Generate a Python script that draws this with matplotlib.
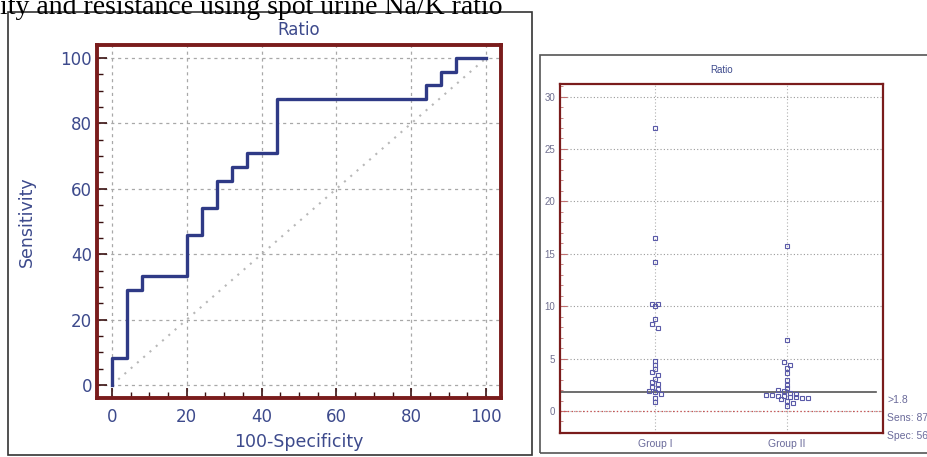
import matplotlib
matplotlib.use("Agg")
import matplotlib.pyplot as plt
import numpy as np
from matplotlib.patches import Rectangle
from matplotlib.ticker import MultipleLocator

plt.rcParams['font.family'] = ['DejaVu Sans']

# ROC curve corners (100-Specificity, Sensitivity)
roc_fpr = [0, 0, 4, 8, 20, 24, 28, 32, 36, 44, 84, 88, 92, 100]
roc_tpr = [0, 8.33, 29.17, 33.33, 45.83, 54.17, 62.5, 66.67, 70.83, 87.5, 91.67, 95.83, 100, 100]

# dot plot values
group_names = ['Group I', 'Group II']
group1 = [27.0, 16.5, 14.2, 10.2, 10.2, 10.0, 8.8, 8.3, 7.9, 4.8, 4.4, 4.0, 3.7,
          3.4, 3.1, 2.8, 2.6, 2.3, 2.1, 1.9, 1.85, 1.6, 1.2, 0.9]
group2 = [15.7, 6.8, 4.7, 4.4, 4.1, 3.6, 3.0, 2.5, 2.2, 2.0, 1.9, 1.7, 1.6, 1.5,
          1.5, 1.4, 1.4, 1.3, 1.3, 1.2, 1.2, 1.1, 1.0, 0.8, 0.5]
cutoff = 1.8
cut_text = ['>1.8', 'Sens: 87.5', 'Spec: 56.0']

frame_red = '#7a1c1c'
navy = '#2f3a86'
lab_col = '#3d4a8c'
narrow = ['Liberation Sans Narrow', 'Liberation Sans', 'DejaVu Sans']

fig = plt.figure(figsize=(9.27, 4.57), dpi=100)

# caption line cut at the top
fig.text(0.0, 1 - 14 / 457, 'ity and resistance using spot urine Na/K ratio',
         family=['Liberation Serif'], fontsize=20, va='baseline', ha='left')

# panel boxes
fig.patches.append(Rectangle((8 / 927, 1 - 455 / 457), 524 / 927, 443 / 457,
                             transform=fig.transFigure, fill=False, ec='#333333', lw=1.2))
fig.patches.append(Rectangle((540 / 927, 1 - 453 / 457), 400 / 927, 398 / 457,
                             transform=fig.transFigure, fill=False, ec='#555555', lw=1.2))

# ---------- ROC panel ----------
ax = fig.add_axes([97 / 927, 1 - 398 / 457, 404 / 927, 353 / 457])
ax.plot([0, 100], [0, 100], ls=(0, (1, 3)), color='#b8b8b8', lw=1.5)
ax.plot(roc_fpr, roc_tpr, drawstyle='steps-post', color=navy, lw=2.4)
ax.set_xlim(-4, 104)
ax.set_ylim(-4, 104)
ax.xaxis.set_major_locator(MultipleLocator(20))
ax.yaxis.set_major_locator(MultipleLocator(20))
ax.xaxis.set_minor_locator(MultipleLocator(5))
ax.yaxis.set_minor_locator(MultipleLocator(5))
ax.grid(True, which='major', ls=(0, (2.5, 3)), color='#a8a8a8', lw=0.9)
ax.tick_params(which='both', direction='in', color='#3a1010', labelcolor=lab_col,
               labelsize=12)
ax.tick_params(which='major', length=7, width=1.2)
ax.tick_params(which='minor', length=4, width=1)
ax.tick_params(axis='x', pad=7)
for s in ax.spines.values():
    s.set_color(frame_red)
    s.set_linewidth(2.8)
ax.set_title('Ratio', color=lab_col, fontsize=12, pad=7)
ax.set_xlabel('100-Specificity', color=lab_col, fontsize=12.5)
ax.set_ylabel('Sensitivity', color=lab_col, fontsize=12.5)
ax.xaxis.set_label_coords(0.5, -0.10)
ax.yaxis.set_label_coords(-0.151, 0.5)

# ---------- dot plot panel ----------
bx = fig.add_axes([560 / 927, 1 - 433 / 457, 323 / 927, 349 / 457])
bx.set_xlim(0.28, 2.73)
bx.set_ylim(-2.1, 31.2)
bx.yaxis.set_major_locator(MultipleLocator(5))
bx.yaxis.set_minor_locator(MultipleLocator(1))
bx.set_xticks([1, 2])
bx.set_xticklabels(group_names, family=narrow)
bx.grid(True, axis='y', which='major', ls=(0, (1, 2)), color='#9a9a9a', lw=0.8)
for gx in (1, 2):
    bx.axvline(gx, ls=(0, (1, 2)), color='#b0b0b0', lw=0.8)
bx.axhline(0, ls=(0, (1, 2)), color='#d05050', lw=0.9)
bx.plot([0.28, 2.68], [cutoff, cutoff], color='#555555', lw=1.2)

for gx, vals in zip((1, 2), (group1, group2)):
    vals = np.array(vals)
    # spread values that fall in the same bin sideways
    bins = np.round(vals / 0.45)
    xs = np.zeros(len(vals))
    for b in np.unique(bins):
        idx = np.where(bins == b)[0]
        n = len(idx)
        xs[idx] = gx + (np.arange(n) - (n - 1) / 2) * 0.045
    bx.plot(xs, vals, 's', ms=3.2, mfc='none', mec='#5a5aa8', mew=0.8)

bx.tick_params(axis='y', which='both', direction='in', color='#c07070',
               labelcolor='#707090', labelsize=7)
for lab in bx.get_yticklabels():
    lab.set_family(narrow)
bx.tick_params(axis='y', which='major', length=5)
bx.tick_params(axis='y', which='minor', length=2.5)
bx.tick_params(axis='x', length=0, labelcolor='#6a6a9a', labelsize=7.5, pad=4)
for s in bx.spines.values():
    s.set_color(frame_red)
    s.set_linewidth(1.6)
bx.set_title('Ratio', color=lab_col, fontsize=7, pad=8, family=narrow)

for i, t in enumerate(cut_text):
    fig.text(887 / 927, 1 - (400 + i * 18) / 457, t, fontsize=7.5, color='#6a6a9a',
             va='center', ha='left', family=narrow)

fig.savefig('out.png', dpi=100, facecolor='white')
